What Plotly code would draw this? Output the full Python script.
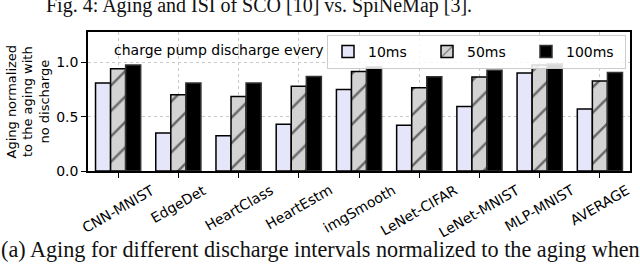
import plotly.graph_objects as go

categories = ["CNN-MNIST", "EdgeDet", "HeartClass", "HeartEstm", "imgSmooth",
              "LeNet-CIFAR", "LeNet-MNIST", "MLP-MNIST", "AVERAGE"]
series_names = ["10ms", "50ms", "100ms"]
vals_10ms = [0.81, 0.35, 0.325, 0.43, 0.75, 0.42, 0.593, 0.90, 0.571]
vals_50ms = [0.94, 0.70, 0.685, 0.78, 0.915, 0.766, 0.864, 0.975, 0.827]
vals_100ms = [0.975, 0.81, 0.81, 0.87, 0.957, 0.867, 0.926, 0.984, 0.905]
y_ticks = [0.0, 0.5, 1.0]

W, H = 640, 266
L, R, T, B = 88, 10, 32, 95
pw, ph = W - L - R, H - T - B

def px_x(x):
    return (x - L) / pw

def px_y(y):
    return (H - B - y) / ph

fig = go.Figure()
fig.add_trace(go.Bar(name=series_names[0], x=categories, y=vals_10ms,
                     marker=dict(color="#e6e6fa", line=dict(color="black", width=1.5))))
fig.add_trace(go.Bar(name=series_names[1], x=categories, y=vals_50ms,
                     marker=dict(color="#d3d3d3", line=dict(color="black", width=1.5),
                                 pattern=dict(shape="/", fgcolor="black", bgcolor="#d3d3d3",
                                              size=18, solidity=0.14, fillmode="overlay"))))
fig.add_trace(go.Bar(name=series_names[2], x=categories, y=vals_100ms,
                     marker=dict(color="black", line=dict(color="#333333", width=1.5))))

fig.update_layout(
    width=W, height=H,
    margin=dict(l=L, r=R, t=T, b=B, autoexpand=False),
    paper_bgcolor="white", plot_bgcolor="white",
    barmode="group", bargap=0.25, bargroupgap=0,
    font=dict(family="DejaVu Sans", size=14, color="black"),
    showlegend=True,
    legend=dict(orientation="h", x=px_x(327), y=px_y(35), xanchor="left", yanchor="top",
                bgcolor="rgba(255,255,255,0.85)", bordercolor="#cccccc", borderwidth=1,
                font=dict(size=14), itemwidth=30, entrywidth=54, entrywidthmode="pixels",
                tracegroupgap=0),
)
fig.update_xaxes(range=[-0.5, len(categories) - 0.5], showline=True, linecolor="black",
                 linewidth=1.5, mirror=True, ticks="outside", ticklen=5, tickcolor="black",
                 showticklabels=False, automargin=False,
                 showgrid=True, gridcolor="#c8c8c8", griddash="dot", gridwidth=1)
fig.update_yaxes(range=[0, 1.278], tickvals=y_ticks, tickformat=".1f", showline=True,
                 linecolor="black", linewidth=1.5, mirror=True, ticks="outside", ticklen=5,
                 tickcolor="black", tickfont=dict(size=14), automargin=False,
                 showgrid=True, gridcolor="#c8c8c8", griddash="dot", gridwidth=1,
                 zeroline=False)

# rotated category labels, centred on their ticks
for cat in categories:
    fig.add_annotation(text=cat, x=cat, xref="x", yref="paper", y=px_y(179),
                       xanchor="center", yanchor="top", textangle=-30,
                       showarrow=False, font=dict(size=14))

fig.add_annotation(text="charge pump discharge every", xref="paper", yref="paper",
                   x=px_x(326), y=px_y(50), xanchor="right", yanchor="middle",
                   showarrow=False, font=dict(size=14))
fig.add_annotation(text="Aging normalized<br>to the aging with<br>no discharge",
                   xref="paper", yref="paper", x=px_x(28), y=0.5, textangle=-90,
                   xanchor="center", yanchor="middle", showarrow=False,
                   font=dict(size=13))
fig.add_annotation(text="Fig. 4: Aging and ISI of SCO [10] vs. SpiNeMap [3].",
                   xref="paper", yref="paper", x=px_x(259), y=px_y(5),
                   xanchor="center", yanchor="middle", showarrow=False,
                   font=dict(family="Liberation Serif", size=20, color="#111111"))
fig.add_annotation(text="(a) Aging for different discharge intervals normalized to the aging when",
                   xref="paper", yref="paper", x=px_x(320), y=px_y(249),
                   xanchor="center", yanchor="middle", showarrow=False,
                   font=dict(family="Liberation Serif", size=22.2, color="#111111"))

fig.write_html("out.html", config={"displayModeBar": False},
               post_script="document.body.style.margin='0';")
